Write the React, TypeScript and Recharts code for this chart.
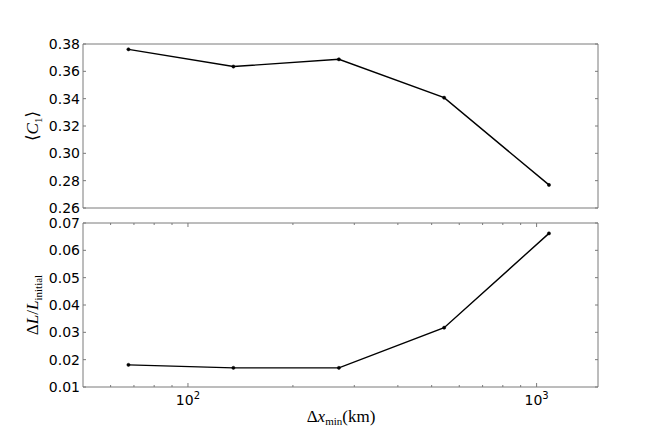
import { LineChart, Line, XAxis, YAxis, ReferenceArea } from 'recharts'

const dx = [67.5, 135, 271, 543, 1085]
const meanC1 = [0.3761, 0.3635, 0.3688, 0.3407, 0.2769]
const deltaL = [0.0181, 0.017, 0.017, 0.0317, 0.0662]

const xDomain = [50, 1500]
const xTicks = [50, 60, 70, 80, 90, 100, 200, 300, 400, 500, 600, 700, 800, 900, 1000]
const xMajor = [100, 1000]
const c1Ticks = [0.26, 0.28, 0.3, 0.32, 0.34, 0.36, 0.38]
const dLTicks = [0.01, 0.02, 0.03, 0.04, 0.05, 0.06, 0.07]

const topData = dx.map((x, i) => ({ dx: x, v: meanC1[i] }))
const bottomData = dx.map((x, i) => ({ dx: x, v: deltaL[i] }))

const PLOT_W = 515
const PLOT_H = 164
const FRAME = '#7a7a7a'
const TICK_FONT = "'DejaVu Sans', sans-serif"
const MATH_FONT = "'Liberation Serif', 'DejaVu Serif', serif"

const makeXTick = (withLabels: boolean) => (props: any) => {
  const { x, y, payload } = props
  const v = payload.value
  if (v <= xDomain[0] || v >= xDomain[1]) return <g />
  const major = xMajor.includes(v)
  const len = major ? 4 : 2
  return (
    <g>
      <line x1={x} y1={y} x2={x} y2={y - len} stroke={FRAME} />
      <line x1={x} y1={y - PLOT_H} x2={x} y2={y - PLOT_H + len} stroke={FRAME} />
      {withLabels && major && (
        <text x={x} y={y + 18} textAnchor="middle" fontFamily={TICK_FONT} fontSize={14} fill="#000">
          10
          <tspan dy={-6} fontSize={10}>{String(Math.round(Math.log10(v)))}</tspan>
        </text>
      )}
    </g>
  )
}

const YTick = (props: any) => {
  const { x, y, payload } = props
  return (
    <g>
      <line x1={x} y1={y} x2={x + 3} y2={y} stroke={FRAME} />
      <line x1={x + PLOT_W} y1={y} x2={x + PLOT_W - 3} y2={y} stroke={FRAME} />
      <text x={x - 3} y={y} dy={5} textAnchor="end" fontFamily={TICK_FONT} fontSize={14} fill="#000">
        {payload.value.toFixed(2)}
      </text>
    </g>
  )
}

function Panel({ data, ticks, top, height, marginTop, marginBottom, xHeight, showXLabels, yLabel }: any) {
  return (
    <div style={{ position: 'absolute', left: 0, top }}>
      <LineChart width={664} height={height} data={data} margin={{ top: marginTop, right: 66, bottom: marginBottom, left: 0 }}>
        <XAxis
          dataKey="dx"
          type="number"
          scale="log"
          domain={xDomain}
          allowDataOverflow
          ticks={xTicks}
          interval={0}
          height={xHeight}
          tickSize={0}
          tickMargin={0}
          axisLine={false}
          tickLine={false}
          tick={makeXTick(showXLabels)}
        />
        <YAxis
          type="number"
          domain={[ticks[0], ticks[ticks.length - 1]]}
          allowDataOverflow
          ticks={ticks}
          interval={0}
          width={83}
          tickSize={0}
          tickMargin={0}
          axisLine={false}
          tickLine={false}
          tick={YTick}
        />
        <ReferenceArea
          x1={xDomain[0]}
          x2={xDomain[1]}
          y1={ticks[0]}
          y2={ticks[ticks.length - 1]}
          fill="none"
          stroke={FRAME}
          strokeWidth={1}
        />
        <Line
          type="linear"
          dataKey="v"
          stroke="#000"
          strokeWidth={1.4}
          dot={{ r: 1.6, fill: '#000', stroke: '#000', strokeWidth: 0.5 }}
          isAnimationActive={false}
        />
      </LineChart>
      <svg width={60} height={height} style={{ position: 'absolute', left: 0, top: 0, overflow: 'visible' }}>
        {yLabel}
      </svg>
    </div>
  )
}

export default function App() {
  return (
    <div style={{ position: 'absolute', left: 0, top: 0, width: 664, height: 443, background: '#fff' }}>
      <Panel
        data={topData}
        ticks={c1Ticks}
        top={0}
        height={215}
        marginTop={44}
        marginBottom={7}
        xHeight={0}
        showXLabels={false}
        yLabel={
          <text transform="translate(38,126) rotate(-90)" textAnchor="middle" fontFamily={MATH_FONT} fontSize={17} fill="#000">
            ⟨<tspan fontStyle="italic">C</tspan>
            <tspan fontSize={11} dy={4}>1</tspan>
            <tspan dy={-4}>⟩</tspan>
          </text>
        }
      />
      <Panel
        data={bottomData}
        ticks={dLTicks}
        top={215}
        height={228}
        marginTop={8}
        marginBottom={26}
        xHeight={30}
        showXLabels={true}
        yLabel={
          <text transform="translate(38,90) rotate(-90)" textAnchor="middle" fontFamily={MATH_FONT} fontSize={17} fill="#000">
            Δ<tspan fontStyle="italic">L</tspan>/<tspan fontStyle="italic">L</tspan>
            <tspan fontSize={11} dy={4}>initial</tspan>
          </text>
        }
      />
      <svg width={664} height={30} style={{ position: 'absolute', left: 0, top: 403 }}>
        <text x={341} y={19} textAnchor="middle" fontFamily={MATH_FONT} fontSize={17} fill="#000">
          Δ<tspan fontStyle="italic">x</tspan>
          <tspan fontSize={11} dy={3}>min</tspan>
          <tspan dy={-3}>(km)</tspan>
        </text>
      </svg>
    </div>
  )
}
